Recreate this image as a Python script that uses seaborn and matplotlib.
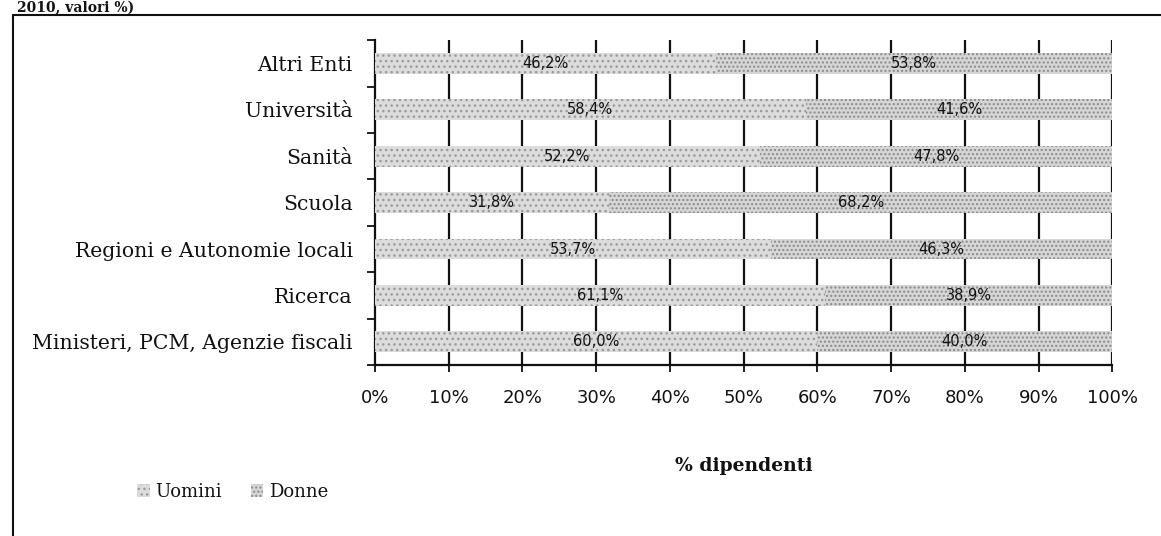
import matplotlib
matplotlib.use("Agg")
import matplotlib.pyplot as plt
from matplotlib.lines import Line2D
from matplotlib.patches import Patch
from matplotlib.ticker import FixedLocator, FuncFormatter
import seaborn as sns
import pandas as pd
import numpy as np

comparti = ["Altri Enti", "Università", "Sanità", "Scuola",
            "Regioni e Autonomie locali", "Ricerca",
            "Ministeri, PCM, Agenzie fiscali"]
uomini = [46.2, 58.4, 52.2, 31.8, 53.7, 61.1, 60.0]
donne = [53.8, 41.6, 47.8, 68.2, 46.3, 38.9, 40.0]
x_ticks = [0, 10, 20, 30, 40, 50, 60, 70, 80, 90, 100]

df = pd.DataFrame({"comparto": comparti, "Uomini": uomini, "Donne": donne})
df["totale"] = df["Uomini"] + df["Donne"]

sns.set_theme(style="white")
plt.rcParams.update({
    "hatch.linewidth": 1.0,
    "text.color": "#111111",
    "xtick.color": "#111111",
    "ytick.color": "#111111",
    "axes.labelcolor": "#111111",
})
serif = ["DejaVu Serif"]
sans = ["DejaVu Sans"]

fig = plt.figure(figsize=(11.61, 5.36), dpi=100)
ax = fig.add_axes([0.323, 0.319, 0.635, 0.606])

# Donne segment: full bar, then Uomini drawn over its left part
sns.barplot(data=df, x="totale", y="comparto", orient="h", ax=ax,
            color="#d6d6d6", width=0.45, errorbar=None,
            edgecolor="#8a8a8a", linewidth=0, hatch="....", zorder=2)
sns.barplot(data=df, x="Uomini", y="comparto", orient="h", ax=ax,
            color="#dcdcdc", width=0.45, errorbar=None,
            edgecolor="#9a9a9a", linewidth=0, hatch="...", zorder=3)

# value labels centred in each segment
for i, (u, d) in enumerate(zip(uomini, donne)):
    ax.text(u / 2, i, f"{u:.1f}%".replace(".", ","), ha="center", va="center",
            fontsize=10.5, family=sans, color="#111111", zorder=4)
    ax.text(u + d / 2, i, f"{d:.1f}%".replace(".", ","), ha="center", va="center",
            fontsize=10.5, family=sans, color="#111111", zorder=4)

ax.set_xlim(0, 100)
ax.set_ylim(len(comparti) - 0.5, -0.5)
ax.xaxis.set_major_locator(FixedLocator(x_ticks))
ax.xaxis.set_major_formatter(FuncFormatter(lambda v, p: f"{v:.0f}%"))
for v in x_ticks[1:]:
    ax.axvline(v, color="#111111", lw=1.6, zorder=1)

ax.set_yticks(range(len(comparti)))
ax.set_yticklabels(comparti, family=serif, fontsize=14.7)
ax.set_yticks(np.arange(-0.5, len(comparti), 1.0), minor=True)
ax.tick_params(axis="y", which="major", length=0, pad=16)
ax.tick_params(axis="y", which="minor", length=6, width=1.3, color="#111111",
               direction="out", left=True)
ax.tick_params(axis="x", length=5, width=1.3, color="#111111",
               direction="out", bottom=True, pad=12)
for lbl in ax.get_xticklabels():
    lbl.set_family(sans)
    lbl.set_fontsize(13)

for s in ["top", "right"]:
    ax.spines[s].set_visible(False)
for s in ["left", "bottom"]:
    ax.spines[s].set_color("#111111")
    ax.spines[s].set_linewidth(1.6)

ax.set_xlabel("% dipendenti", family=serif, fontsize=13.5, fontweight="bold",
              labelpad=36)
ax.set_ylabel("")

fig.legend(handles=[Patch(facecolor="#dcdcdc", edgecolor="#9a9a9a", hatch="...", lw=0),
                    Patch(facecolor="#d6d6d6", edgecolor="#8a8a8a", hatch="....", lw=0)],
           labels=["Uomini", "Donne"], loc="center left",
           bbox_to_anchor=(0.104, 0.082), ncol=2, frameon=False,
           prop={"family": serif, "size": 13}, handlelength=0.7,
           handleheight=0.7, handletextpad=0.3, columnspacing=1.6)

# caption above the panel
fig.text(0.015, 0.999, "2010, valori %)", family=serif, fontsize=10,
         fontweight="bold", ha="left", va="top")

# panel frame: left and top edges
fig.add_artist(Line2D([0.011, 0.011], [0.0, 0.972], transform=fig.transFigure,
                      color="#111111", lw=1.5))
fig.add_artist(Line2D([0.011, 1.0], [0.972, 0.972], transform=fig.transFigure,
                      color="#111111", lw=1.5))

fig.savefig("out.png", dpi=100)
